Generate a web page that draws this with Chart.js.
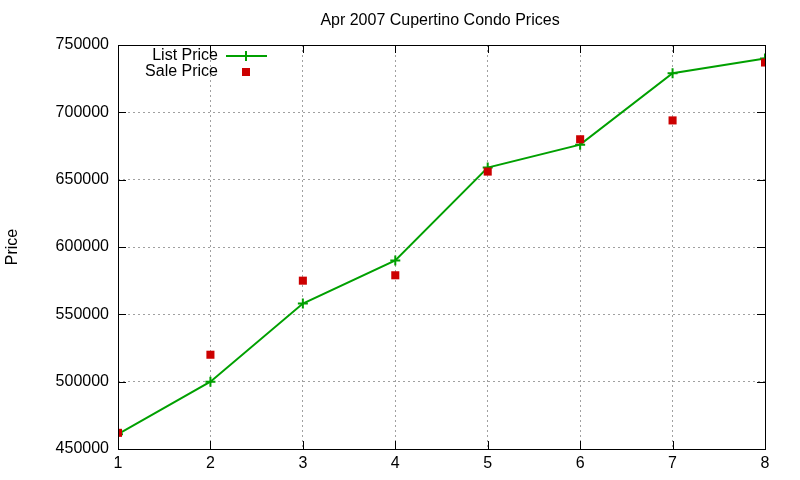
<!DOCTYPE html>
<html>
<head>
<meta charset="utf-8">
<script src="https://cdn.jsdelivr.net/npm/chart.js@4.4.0/dist/chart.umd.min.js"></script>
<style>
  html, body { margin: 0; padding: 0; background: #ffffff; }
  #wrap { width: 800px; height: 480px; }
</style>
</head>
<body>
<div id="wrap"><canvas id="chart" width="800" height="480"></canvas></div>
<script>
// ===== DATA =====
const units = [1, 2, 3, 4, 5, 6, 7, 8];
const listPrice = [461000, 500000, 558000, 590000, 659000, 676000, 729000, 740000];
const salePrice = [462000, 520000, 575000, 579000, 656000, 680000, 694000, 737000];
const yTicks = [450000, 500000, 550000, 600000, 650000, 700000, 750000];

const FONT = 'Liberation Sans, Arial, sans-serif';
const GREEN = '#00a000';
const RED = '#cc0000';

// gnuplot-ish frame: border box, inward ticks, title and inner legend
const framePlugin = {
  id: 'frame',
  afterDraw(chart) {
    const { ctx, chartArea: a, scales } = chart;
    ctx.save();
    ctx.strokeStyle = '#000';
    ctx.lineWidth = 1;
    ctx.strokeRect(a.left + 0.5, a.top + 0.5, a.right - a.left, a.bottom - a.top);
    ctx.beginPath();
    units.forEach(u => {
      const x = Math.round(scales.x.getPixelForValue(u)) + 0.5;
      ctx.moveTo(x, a.bottom); ctx.lineTo(x, a.bottom - 8);
      ctx.moveTo(x, a.top); ctx.lineTo(x, a.top + 8);
    });
    yTicks.forEach(v => {
      const y = Math.round(scales.y.getPixelForValue(v)) + 0.5;
      ctx.moveTo(a.left, y); ctx.lineTo(a.left + 8, y);
      ctx.moveTo(a.right, y); ctx.lineTo(a.right - 8, y);
    });
    ctx.stroke();

    // title
    ctx.fillStyle = '#000';
    ctx.font = '16px ' + FONT;
    ctx.textAlign = 'center';
    ctx.textBaseline = 'middle';
    ctx.fillText('Apr 2007 Cupertino Condo Prices', 440, 21);

    // legend
    ctx.textAlign = 'right';
    ctx.fillText('List Price', 218, 56);
    ctx.fillText('Sale Price', 218, 72);
    ctx.strokeStyle = GREEN;
    ctx.lineWidth = 2;
    ctx.beginPath();
    ctx.moveTo(226, 56); ctx.lineTo(267, 56);
    ctx.moveTo(246, 51); ctx.lineTo(246, 61);
    ctx.stroke();
    ctx.fillStyle = RED;
    ctx.fillRect(242, 68, 8, 8);
    ctx.restore();
  }
};

new Chart(document.getElementById('chart'), {
  type: 'line',
  data: {
    datasets: [
      {
        label: 'List Price',
        data: units.map((u, i) => ({ x: u, y: listPrice[i] })),
        order: 1,
        borderColor: GREEN,
        backgroundColor: GREEN,
        borderWidth: 2,
        pointStyle: 'cross',
        pointRadius: 5,
        pointBorderWidth: 2,
        tension: 0
      },
      {
        label: 'Sale Price',
        data: units.map((u, i) => ({ x: u, y: salePrice[i] })),
        order: 0,
        showLine: false,
        borderColor: RED,
        backgroundColor: RED,
        pointStyle: 'rect',
        pointRadius: 5.7,
        pointBorderWidth: 0
      }
    ]
  },
  options: {
    responsive: false,
    animation: false,
    layout: { padding: { top: 45, right: 35, left: 0, bottom: 0 } },
    plugins: {
      legend: { display: false },
      title: { display: false },
      tooltip: { enabled: false }
    },
    scales: {
      x: {
        type: 'linear',
        min: 1, max: 8,
        afterFit: s => { s.height = 31; },
        border: { display: false, dash: [2, 3] },
        grid: { color: '#a0a0a0', lineWidth: 1, drawTicks: false },
        ticks: { stepSize: 1, color: '#000', padding: 5, font: { family: FONT, size: 16 } }
      },
      y: {
        min: 450000, max: 750000,
        afterFit: s => { s.width = 118; },
        afterBuildTicks: s => { s.ticks = yTicks.map(v => ({ value: v })); },
        border: { display: false, dash: [2, 3] },
        grid: { color: '#a0a0a0', lineWidth: 1, drawTicks: false },
        ticks: { color: '#000', padding: 9, font: { family: FONT, size: 16 }, callback: v => String(v) },
        title: { display: true, text: 'Price', color: '#000', padding: { top: 3, bottom: 23 }, font: { family: FONT, size: 16 } }
      }
    }
  },
  plugins: [framePlugin]
});
</script>
</body>
</html>
